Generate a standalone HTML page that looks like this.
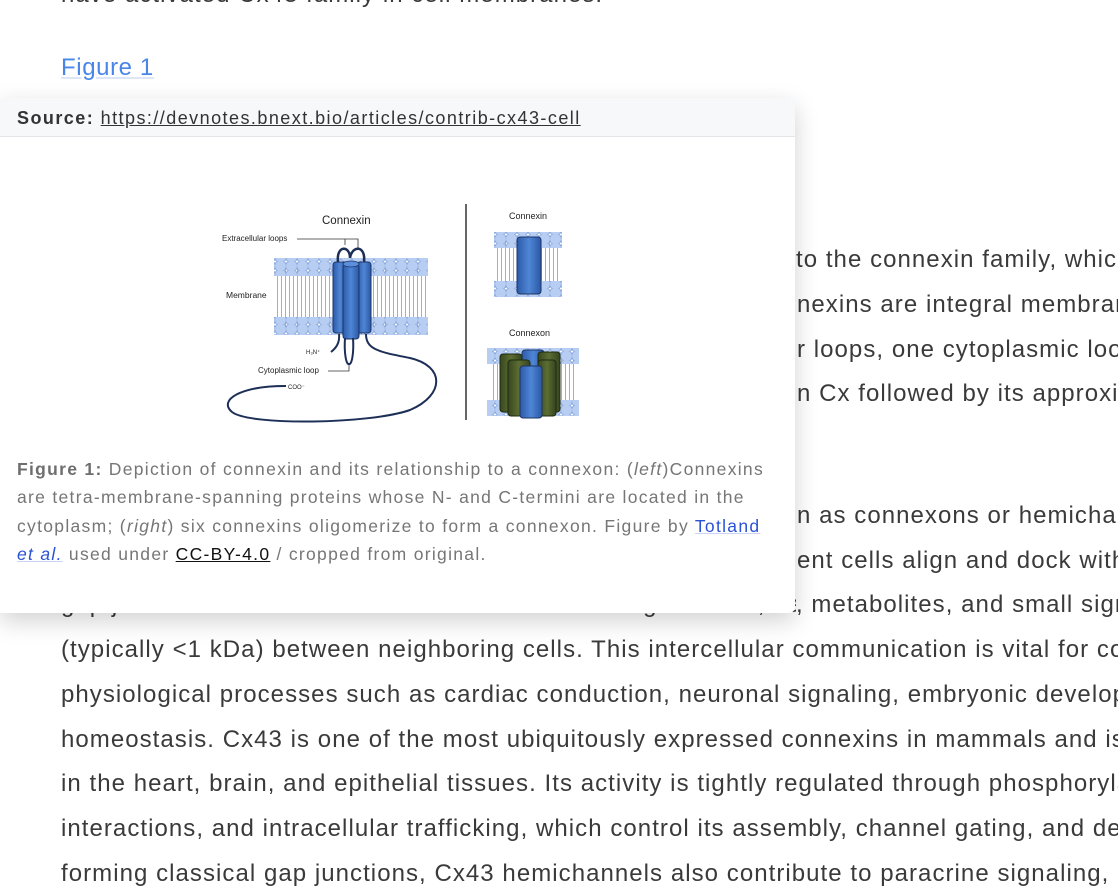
<!DOCTYPE html>
<html><head><meta charset="utf-8">
<style>
html,body{margin:0;padding:0}
body{width:1118px;height:886px;overflow:hidden;position:relative;background:#fff;font-family:"Liberation Sans",Arial,sans-serif;color:#3a3a3a}
.wrap{position:absolute;left:0;top:0;width:1118px;height:886px;overflow:hidden}
.l{position:absolute;right:0;font-size:24px;letter-spacing:1.05px;white-space:nowrap;line-height:30px;overflow:hidden}
.pop{position:absolute;left:0;top:98px;width:795px;height:515px;background:#fff;box-shadow:0 8px 24px rgba(0,0,0,0.18);border-radius:0 6px 6px 0;overflow:hidden}
.hd{height:38px;background:#f7f8fa;border-bottom:1px solid #e3e5e8;font-size:18px;letter-spacing:1.45px;color:#333;line-height:40px;padding-left:17px}
.hd a{color:#333;text-decoration:underline}
.cap{position:absolute;left:17px;top:357px;width:762px;font-size:17.5px;letter-spacing:1.3px;line-height:28.3px;color:#767676}
.cap b{color:#6e6e6e}
.cap .bl{color:#2a52d6;text-decoration:underline;text-decoration-color:#c8d3f5}
.cap .k{color:#111;text-decoration:underline}
</style></head><body>
<div class="wrap">
<div class="l" style="left:61px;top:-20px">have activated Cx43 family in cell membranes.</div>
<div class="l" style="left:61px;top:53px;color:#4a86e8;letter-spacing:0.6px"><span style="text-decoration:underline;text-decoration-color:#dde6f6">Figure 1</span></div>
<div class="l" style="left:796px;top:245px">to the connexin family, which</div>
<div class="l" style="left:797px;top:290px">nexins are integral membrane</div>
<div class="l" style="left:797px;top:335px">r loops, one cytoplasmic loop</div>
<div class="l" style="left:797px;top:379px">n Cx followed by its approximate</div>
<div class="l" style="left:797px;top:501px">n as connexons or hemichannels</div>
<div class="l" style="left:797px;top:546px">ent cells align and dock with</div>
<div class="l" style="left:61px;top:590px">gap junction channels that allow the direct exchange of ions, second messengers</div>
<div class="l" style="left:796px;top:590px;background:#fff">, metabolites, and small signaling</div>
<div class="l" style="left:61px;top:635px">(typically &lt;1 kDa) between neighboring cells. This intercellular communication is vital for coordinating</div>
<div class="l" style="left:61px;top:680px">physiological processes such as cardiac conduction, neuronal signaling, embryonic development</div>
<div class="l" style="left:61px;top:725px">homeostasis. Cx43 is one of the most ubiquitously expressed connexins in mammals and is abundant</div>
<div class="l" style="left:61px;top:769px">in the heart, brain, and epithelial tissues. Its activity is tightly regulated through phosphorylation</div>
<div class="l" style="left:61px;top:814px">interactions, and intracellular trafficking, which control its assembly, channel gating, and degradation</div>
<div class="l" style="left:61px;top:859px">forming classical gap junctions, Cx43 hemichannels also contribute to paracrine signaling, cell</div>

<div class="pop">
<div class="hd"><b>Source:</b> <a>https://devnotes.bnext.bio/articles/contrib-cx43-cell</a></div>
<svg style="position:absolute;left:0;top:0" width="795" height="515" viewBox="0 98 795 515">
<defs>
<pattern id="hd" width="11" height="9" patternUnits="userSpaceOnUse"><circle cx="5.5" cy="5" r="5.8" fill="#b7cdf2" stroke="#7fa0dc" stroke-width="0.8"/></pattern>
<pattern id="tl" width="4" height="60" patternUnits="userSpaceOnUse"><line x1="1.5" y1="0" x2="1.5" y2="60" stroke="#7a9bd6" stroke-width="1"/></pattern>
<linearGradient id="cy" x1="0" x2="1"><stop offset="0" stop-color="#2c5aa8"/><stop offset="0.5" stop-color="#4f86d6"/><stop offset="1" stop-color="#2a58a5"/></linearGradient>
<linearGradient id="gr" x1="0" x2="1"><stop offset="0" stop-color="#38461f"/><stop offset="0.5" stop-color="#5d6e33"/><stop offset="1" stop-color="#36441e"/></linearGradient>
</defs>
<g font-family="Liberation Sans,Arial,sans-serif" fill="#222">
<text x="322" y="224" font-size="11.5">Connexin</text>
<text x="222" y="241" font-size="8">Extracellular loops</text>
<polyline points="297,239 358,239 358,250" fill="none" stroke="#333" stroke-width="0.8"/>
<line x1="345" y1="239" x2="345" y2="245" stroke="#333" stroke-width="0.8"/>
<text x="226" y="298" font-size="8.5">Membrane</text>
<text x="306" y="354" font-size="6">H₃N⁺</text>
<text x="258" y="373" font-size="8">Cytoplasmic loop</text>
<polyline points="328,371 349,371 349,365" fill="none" stroke="#333" stroke-width="0.8"/>
<text x="288" y="389" font-size="6">COO⁻</text>
<text x="509" y="219" font-size="9">Connexin</text>
<text x="509" y="336" font-size="9">Connexon</text>
</g>
<rect x="276" y="266" width="150" height="60" fill="url(#tl)" opacity="0.8"/>
<rect x="274" y="258" width="154" height="18" fill="url(#hd)"/>
<rect x="274" y="317" width="154" height="18" fill="url(#hd)"/>
<path d="M338,262 C336,245 350,245 350,258 M350,258 C352,245 366,245 364,262" fill="none" stroke="#1d2f57" stroke-width="2.5"/>
<rect x="333" y="262" width="14" height="71" rx="3" fill="url(#cy)" stroke="#1d3466" stroke-width="1"/>
<rect x="357" y="262" width="14" height="71" rx="3" fill="url(#cy)" stroke="#1d3466" stroke-width="1"/>
<rect x="343" y="264" width="16" height="75" rx="3" fill="url(#cy)" stroke="#1d3466" stroke-width="1"/>
<ellipse cx="351" cy="264" rx="8" ry="3" fill="#5b8fdc" stroke="#1d3466" stroke-width="0.8"/>
<path d="M339,334 C340,343 336,348 331,352" fill="none" stroke="#1d2f57" stroke-width="2"/>
<path d="M345,338 C344,352 346,365 349,364 C352,365 354,352 353,338" fill="none" stroke="#1d2f57" stroke-width="2"/>
<path d="M366,334 C366,350 380,352 410,358 C445,366 445,395 410,410 C370,424 250,426 232,412 C218,400 240,386 286,386" fill="none" stroke="#1d2f57" stroke-width="2"/>
<line x1="466" y1="204" x2="466" y2="420" stroke="#333" stroke-width="1.5"/>
<rect x="496" y="240" width="64" height="48" fill="url(#tl)" opacity="0.8"/>
<rect x="494" y="232" width="68" height="16" fill="url(#hd)"/>
<rect x="494" y="281" width="68" height="16" fill="url(#hd)"/>
<rect x="517" y="237" width="24" height="57" rx="3" fill="url(#cy)" stroke="#1d3466" stroke-width="1"/>
<rect x="490" y="356" width="86" height="50" fill="url(#tl)" opacity="0.8"/>
<rect x="487" y="348" width="92" height="16" fill="url(#hd)"/>
<rect x="487" y="400" width="92" height="16" fill="url(#hd)"/>
<rect x="522" y="350" width="22" height="60" rx="3" fill="url(#cy)" stroke="#1d3466"/>
<rect x="500" y="354" width="22" height="58" rx="3" fill="url(#gr)" stroke="#1f2a10"/>
<rect x="538" y="352" width="22" height="60" rx="3" fill="url(#gr)" stroke="#1f2a10"/>
<rect x="508" y="360" width="22" height="56" rx="3" fill="url(#gr)" stroke="#1f2a10"/>
<rect x="538" y="360" width="18" height="56" rx="3" fill="url(#gr)" stroke="#1f2a10"/>
<rect x="520" y="366" width="22" height="52" rx="3" fill="url(#cy)" stroke="#1d3466"/>
</svg>
<div class="cap"><b>Figure 1:</b> Depiction of connexin and its relationship to a connexon: (<i>left</i>)Connexins are tetra-membrane-spanning proteins whose N- and C-termini are located in the cytoplasm; (<i>right</i>) six connexins oligomerize to form a connexon. Figure by <span class="bl">Totland <i>et al.</i></span> used under <span class="k">CC-BY-4.0</span> / cropped from original.</div>
</div>
</div>
</body></html>
